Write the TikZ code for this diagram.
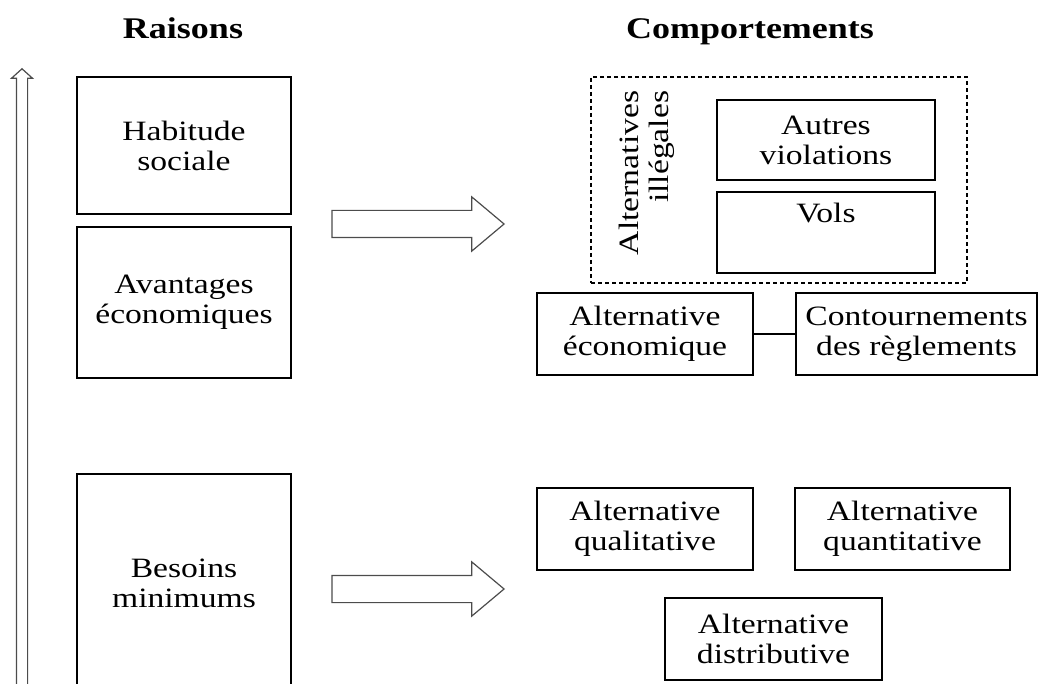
\documentclass[tikz,border=0pt]{standalone}
\usepackage{fontspec}
\setmainfont{Liberation Serif}[FakeStretch=1.2]
\usetikzlibrary{shapes.arrows, positioning}

\begin{document}
\begin{tikzpicture}[x=0.5pt, y=-0.5pt,
    font=\fontsize{14}{15}\selectfont,
    box/.style={draw, line width=0.8pt, align=center, inner sep=0pt},
    titre/.style={font=\fontsize{15}{17}\selectfont\bfseries, anchor=base},
    fleche/.style={draw=black!70, line width=0.6pt, single arrow, inner sep=0pt, anchor=tip}]
    \useasboundingbox (0,0) rectangle (1039,684);
    \clip (0,0) rectangle (1039,684);

    % titres
    \node[titre] (raisons) at (183,39) {Raisons};
    \node[titre] (comport) at (750,39) {Comportements};

    % axe
    \node[fleche, rotate=90, inner ysep=2.5pt, single arrow head extend=2.5pt,
          minimum width=10pt, minimum height=316pt, single arrow tip angle=96] (axe) at (22,68) {};

    % raisons
    \node[box, minimum width=107pt, minimum height=68.5pt] (habitude) at (184,145.5) {Habitude\\sociale};
    \node[box, minimum width=107pt, minimum height=75.5pt] (avantages) at (184,302.5) {Avantages\\économiques};
    \node[box, minimum width=107pt, minimum height=109pt] (besoins) at (184,583) {Besoins\\minimums};

    % fleches
    \node[fleche, inner ysep=6.5pt, single arrow head extend=6.75pt, minimum width=26.5pt,
          minimum height=86pt, single arrow tip angle=80] (f1) at (505,224) {};
    \node[fleche, inner ysep=6.5pt, single arrow head extend=6.75pt, minimum width=26.5pt,
          minimum height=86pt, single arrow tip angle=80] (f2) at (505,589) {};

    % comportements
    \node[draw, dashed, dash pattern=on 2pt off 1.5pt, line width=0.6pt,
          minimum width=188pt, minimum height=103pt] (illeg) at (779,180) {};
    \node[rotate=90, align=right, inner sep=0pt] (illegtxt) at (647,173) {Alternatives\\illégales};
    \node[box, minimum width=109pt, minimum height=40pt] (autres) at (826,140) {Autres\\violations};
    \node[box, minimum width=109pt, minimum height=40.5pt,
          label={[name=volstxt, anchor=north, inner sep=0pt, yshift=-5.5pt]north:Vols}] (vols) at (826,232.5) {};
    \node[box, minimum width=108pt, minimum height=41pt] (economique) at (645,334) {Alternative\\économique};
    \node[box, minimum width=120.5pt, minimum height=41pt] (contourn) at (916.5,334) {Contournements\\des règlements};
    \draw[line width=0.8pt] (economique) -- (contourn);

    \node[box, minimum width=108pt, minimum height=41pt] (qualit) at (645,529) {Alternative\\qualitative};
    \node[box, minimum width=107.5pt, minimum height=41pt] (quantit) at (902.5,529) {Alternative\\quantitative};
    \node[box, minimum width=108.5pt, minimum height=41pt] (distrib) at (773.5,639) {Alternative\\distributive};
\end{tikzpicture}
\end{document}
